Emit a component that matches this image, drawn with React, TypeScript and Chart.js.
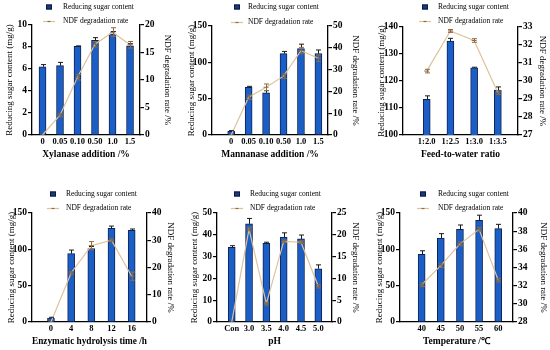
import React, { useEffect, useRef } from 'react';
import { Chart, registerables } from 'chart.js';

Chart.register(...registerables);

const FONT = "'Liberation Serif', 'Times New Roman', serif";
const SUGAR_LABEL = 'Reducing sugar content';
const NDF_LABEL = 'NDF degradation rate';
const LEFT_TITLE = 'Reducing sugar content (mg/g)';
const RIGHT_TITLE = 'NDF degradation rate /%';

// ---- Panel 1: Xylanase ----
const xylCats = ['0', '0.05', '0.10', '0.50', '1.0', '1.5'];
const xylSugar = [6.2, 6.3, 8.05, 8.6, 9.2, 8.1];
const xylSugarErr = [0.2, 0.3, 0.05, 0.25, 0.2, 0.2];
const xylNdf = [0, 3.6, 10.5, 16.5, 18.7, 16.4];
const xylNdfErr = [0, 0.3, 0.5, 0.5, 0.8, 0.6];

// ---- Panel 2: Mannanase ----
const manCats = ['0', '0.05', '0.10', '0.50', '1.0', '1.5'];
const manSugar = [5, 65.5, 58, 112, 119, 112];
const manSugarErr = [1, 1.5, 3, 3, 6, 5];
const manNdf = [0, 17.3, 21.9, 27, 38.7, 35.2];
const manNdfErr = [0, 1, 1.5, 1, 1.5, 1.5];

// ---- Panel 3: Feed-to-water ratio ----
const feedCats = ['1:2.0', '1:2.5', '1:3.0', '1:3.5'];
const feedSugar = [113.2, 134.8, 124.9, 116.6];
const feedSugarErr = [1.3, 1, 0.2, 1.2];
const feedNdf = [30.55, 32.78, 32.25, 29.35];
const feedNdfErr = [0.1, 0.08, 0.1, 0.1];

// ---- Panel 4: Enzymatic hydrolysis time ----
const timeCats = ['0', '4', '8', '12', '16'];
const timeSugar = [5.5, 94, 101, 129, 126];
const timeSugarErr = [1, 5, 3, 3, 2];
const timeNdf = [0, 18, 28, 30, 16.8];
const timeNdfErr = [0, 0.5, 1.5, 0.5, 1.5];

// ---- Panel 5: pH ----
const phCats = ['Con', '3.0', '3.5', '4.0', '4.5', '5.0'];
const phSugar = [34.3, 45, 36.1, 38.9, 38.1, 24.4];
const phSugarErr = [0.7, 2.5, 0.5, 2, 1.8, 1.8];
const phNdf = [0, 21.3, 4.2, 18.5, 18.3, 8.2];
const phNdfErr = [0, 0.4, 0.3, 0.3, 0.3, 0.4];

// ---- Panel 6: Temperature ----
const tempCats = ['40', '45', '50', '55', '60'];
const tempSugar = [93, 115.6, 127.5, 140, 128.4];
const tempSugarErr = [5, 6, 6, 7, 6];
const tempNdf = [32.1, 34.2, 36.6, 38.2, 32.6];
const tempNdfErr = [0.2, 0.2, 0.2, 0.2, 0.2];

// axis ranges [min, max, step]
const xylLeftAxis = [0, 10, 2];
const xylRightAxis = [0, 20, 5];
const manLeftAxis = [0, 150, 50];
const manRightAxis = [0, 50, 10];
const feedLeftAxis = [100, 140, 10];
const feedRightAxis = [27, 33, 1];
const timeLeftAxis = [0, 150, 50];
const timeRightAxis = [0, 40, 10];
const phLeftAxis = [0, 50, 10];
const phRightAxis = [0, 25, 5];
const tempLeftAxis = [0, 150, 50];
const tempRightAxis = [28, 40, 2];

const xTitles = [
  'Xylanase addition /%',
  'Mannanase addition /%',
  'Feed-to-water ratio',
  'Enzymatic hydrolysis time /h',
  'pH',
  'Temperature /\u2103',
];

// layout (page pixel coordinates)
const layouts = [
  { cell: [0, 0, 183, 175], area: [32, 25, 140, 135], pad: [0.6, 0.57], lt: 10, rt: 167, xt: 155, leg: [49, 63, 7, 21] },
  { cell: [183, 0, 183, 175], area: [212, 26, 328, 135], pad: [1.1, 0.55], lt: 192, rt: 355, xt: 155, leg: [237, 248, 7, 22] },
  { cell: [366, 0, 184, 175], area: [403, 27, 518, 135], pad: [1.0, 0.85], lt: 382, rt: 542, xt: 155, leg: [425, 438, 7, 21] },
  { cell: [0, 175, 183, 175], area: [32, 213, 147, 322], pad: [0.94, 0.76], lt: 12, rt: 170, xt: 342, leg: [53, 66, 194, 208] },
  { cell: [183, 175, 183, 175], area: [217, 213, 332, 322], pad: [0.85, 0.79], lt: 195, rt: 355, xt: 342, leg: [237, 250, 194, 208] },
  { cell: [366, 175, 184, 175], area: [400, 213, 513, 322], pad: [1.13, 0.77], lt: 380, rt: 543, xt: 342, leg: [423, 438, 194, 208] },
];

const panels = [
  { cats: xylCats, sugar: xylSugar, sugarErr: xylSugarErr, ndf: xylNdf, ndfErr: xylNdfErr, left: xylLeftAxis, right: xylRightAxis },
  { cats: manCats, sugar: manSugar, sugarErr: manSugarErr, ndf: manNdf, ndfErr: manNdfErr, left: manLeftAxis, right: manRightAxis },
  { cats: feedCats, sugar: feedSugar, sugarErr: feedSugarErr, ndf: feedNdf, ndfErr: feedNdfErr, left: feedLeftAxis, right: feedRightAxis },
  { cats: timeCats, sugar: timeSugar, sugarErr: timeSugarErr, ndf: timeNdf, ndfErr: timeNdfErr, left: timeLeftAxis, right: timeRightAxis },
  { cats: phCats, sugar: phSugar, sugarErr: phSugarErr, ndf: phNdf, ndfErr: phNdfErr, left: phLeftAxis, right: phRightAxis },
  { cats: tempCats, sugar: tempSugar, sugarErr: tempSugarErr, ndf: tempNdf, ndfErr: tempNdfErr, left: tempLeftAxis, right: tempRightAxis },
];

const BAR_FILL = '#1B5EC6';
const BAR_EDGE = '#0E2352';
const LINE_COLOR = '#DEC29C';
const LINE_ERR = '#8E6C40';

const XTICK_SIZE = 8.5;
const YTICK_SIZE = 9.5;
const YTITLE_SIZE = 9;
const XTITLE_SIZE = 9.5;
const LEGEND_SIZE = 7.5;

const errorBarPlugin = {
  id: 'errorBars',
  afterDatasetsDraw(chart: any) {
    const ctx = chart.ctx;
    chart.data.datasets.forEach((ds: any, di: number) => {
      const errs = ds.errors;
      if (!errs) return;
      const meta = chart.getDatasetMeta(di);
      const scale = chart.scales[meta.yAxisID];
      const cap = ds.errCap || 2;
      ctx.save();
      ctx.strokeStyle = ds.errColor;
      ctx.lineWidth = 1;
      meta.data.forEach((el: any, i: number) => {
        const e = errs[i];
        if (!e) return;
        const v = ds.data[i].y;
        const x = Math.round(el.x) + 0.5;
        const yTop = scale.getPixelForValue(v + e);
        const yBot = ds.errUpOnly ? scale.getPixelForValue(v) : scale.getPixelForValue(v - e);
        ctx.beginPath();
        ctx.moveTo(x, yTop);
        ctx.lineTo(x, yBot);
        ctx.moveTo(x - cap, yTop);
        ctx.lineTo(x + cap, yTop);
        if (!ds.errUpOnly) {
          ctx.moveTo(x - cap, yBot);
          ctx.lineTo(x + cap, yBot);
        }
        ctx.stroke();
      });
      ctx.restore();
    });
  },
};

const legendPlugin = {
  id: 'customLegend',
  afterDraw(chart: any, _args: any, opts: any) {
    const ctx = chart.ctx;
    const { mx, tx, y1, y2 } = opts;
    const ds = chart.data.datasets;
    ctx.save();
    // bar marker
    ctx.fillStyle = '#1A3A84';
    ctx.strokeStyle = '#0A1838';
    ctx.lineWidth = 1;
    ctx.fillRect(mx - 3, y1 - 2.5, 6, 5);
    ctx.strokeRect(mx - 3 + 0.5, y1 - 2.5 + 0.5, 5, 4);
    // line marker
    ctx.strokeStyle = LINE_COLOR;
    ctx.lineWidth = 1.2;
    ctx.beginPath();
    ctx.moveTo(mx - 6, y2 + 0.5);
    ctx.lineTo(mx + 6, y2 + 0.5);
    ctx.stroke();
    ctx.strokeStyle = LINE_ERR;
    ctx.beginPath();
    ctx.moveTo(mx - 1.5, y2 + 0.5);
    ctx.lineTo(mx + 1.5, y2 + 0.5);
    ctx.stroke();
    ctx.fillStyle = '#000';
    ctx.font = `${LEGEND_SIZE}px ${FONT}`;
    ctx.textBaseline = 'middle';
    ctx.textAlign = 'left';
    ctx.fillText(ds[0].label, tx, y1);
    ctx.fillText(ds[1].label, tx, y2);
    ctx.restore();
  },
};

function Panel({ idx }: { idx: number }) {
  const ref = useRef<HTMLCanvasElement>(null);
  const p = panels[idx];
  const L = layouts[idx];
  const [cx, cy, cw, ch] = L.cell;

  useEffect(() => {
    if (!ref.current) return;
    const [al, at, ar, ab] = L.area;
    const n = p.cats.length;
    const yLh = YTITLE_SIZE * 1.2;
    const xLh = XTITLE_SIZE * 1.2;
    const chart = new Chart(ref.current, {
      type: 'bar',
      data: {
        datasets: [
          {
            type: 'bar',
            label: SUGAR_LABEL,
            data: p.sugar.map((v, i) => ({ x: i, y: v })),
            backgroundColor: BAR_FILL,
            borderColor: BAR_EDGE,
            borderWidth: 1,
            barThickness: 7,
            yAxisID: 'y',
            order: 2,
            errors: p.sugarErr,
            errColor: '#1a1a1a',
            errUpOnly: true,
            errCap: 2.5,
          } as any,
          {
            type: 'line',
            label: NDF_LABEL,
            data: p.ndf.map((v, i) => ({ x: i, y: v })),
            borderColor: LINE_COLOR,
            borderWidth: 1.2,
            pointRadius: 2.5,
            pointStyle: 'line',
            pointBorderColor: LINE_ERR,
            pointBorderWidth: 1,
            tension: 0,
            yAxisID: 'y1',
            order: 1,
            errors: p.ndfErr,
            errColor: LINE_ERR,
            errUpOnly: false,
            errCap: 2.5,
          } as any,
        ],
      },
      options: {
        responsive: false,
        animation: false,
        devicePixelRatio: 1,
        layout: { padding: { top: at - cy, left: 0, right: 0, bottom: 0 } },
        plugins: {
          legend: { display: false },
          tooltip: { enabled: false },
          customLegend: { mx: L.leg[0] - cx, tx: L.leg[1] - cx, y1: L.leg[2] - cy, y2: L.leg[3] - cy },
        } as any,
        scales: {
          x: {
            type: 'linear',
            position: 'bottom',
            offset: false,
            min: -L.pad[0],
            max: n - 1 + L.pad[1],
            grid: { display: false, drawTicks: false },
            border: { display: true, color: '#000', width: 1.3 },
            ticks: {
              stepSize: 1,
              includeBounds: false,
              autoSkip: false,
              maxRotation: 0,
              padding: 2,
              color: '#000',
              font: { family: FONT, size: XTICK_SIZE, weight: 'bold' },
              callback: (v: any) => (Number.isInteger(v) && p.cats[v] !== undefined ? p.cats[v] : ''),
            },
            title: {
              display: true,
              text: xTitles[idx],
              color: '#000',
              font: { family: FONT, size: XTITLE_SIZE, weight: 'bold' },
              padding: { top: 0, bottom: cy + ch - L.xt - xLh / 2 },
            },
            afterFit: (s: any) => {
              s.height = cy + ch - ab;
            },
          } as any,
          y: {
            type: 'linear',
            position: 'left',
            min: p.left[0],
            max: p.left[1],
            grid: { drawOnChartArea: false, drawTicks: true, tickLength: 4, color: '#000', lineWidth: 1.2 },
            border: { display: true, color: '#000', width: 1.3 },
            ticks: {
              stepSize: p.left[2],
              padding: 1,
              color: '#000',
              font: { family: FONT, size: YTICK_SIZE, weight: 'bold' },
            },
            title: {
              display: true,
              text: LEFT_TITLE,
              color: '#000',
              font: { family: FONT, size: YTITLE_SIZE },
              padding: { top: L.lt - cx - yLh / 2, bottom: 0 },
            },
            afterFit: (s: any) => {
              s.width = al - cx;
            },
          } as any,
          y1: {
            type: 'linear',
            position: 'right',
            min: p.right[0],
            max: p.right[1],
            grid: { drawOnChartArea: false, drawTicks: true, tickLength: 4, color: '#000', lineWidth: 1.2 },
            border: { display: true, color: '#000', width: 1.3 },
            ticks: {
              stepSize: p.right[2],
              padding: 1,
              color: '#000',
              font: { family: FONT, size: YTICK_SIZE, weight: 'bold' },
            },
            title: {
              display: true,
              text: RIGHT_TITLE,
              color: '#000',
              font: { family: FONT, size: YTITLE_SIZE },
              padding: { top: cx + cw - L.rt - yLh / 2, bottom: 0 },
            },
            afterFit: (s: any) => {
              s.width = cx + cw - ar;
            },
          } as any,
        },
      },
      plugins: [errorBarPlugin, legendPlugin],
    });
    return () => chart.destroy();
  }, []);

  return (
    <canvas
      ref={ref}
      width={cw}
      height={ch}
      style={{ position: 'absolute', left: cx, top: cy, width: cw, height: ch }}
    />
  );
}

export default function App() {
  return (
    <div
      style={{
        position: 'absolute',
        left: 0,
        top: 0,
        width: 550,
        height: 350,
        background: '#fff',
        overflow: 'hidden',
      }}
    >
      {panels.map((_, i) => (
        <Panel key={i} idx={i} />
      ))}
    </div>
  );
}
